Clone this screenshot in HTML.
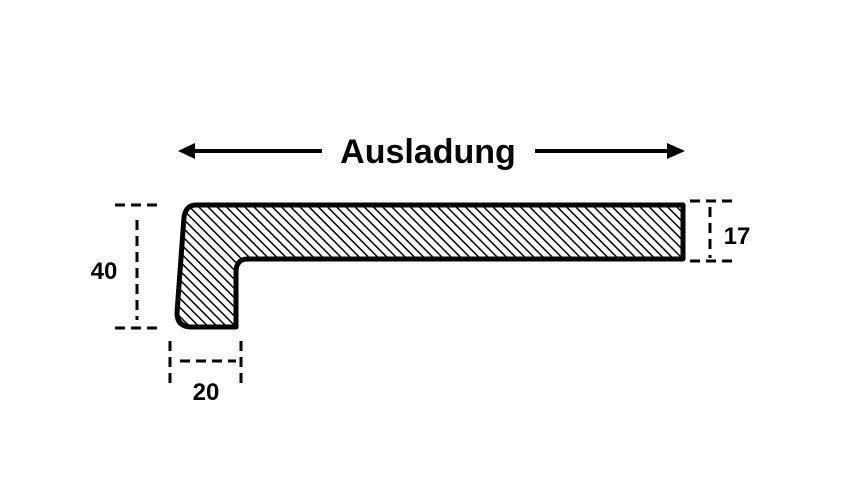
<!DOCTYPE html>
<html><head><style>body{margin:0;background:#fff}</style></head><body>
<svg width="859" height="497" viewBox="0 0 859 497" xmlns="http://www.w3.org/2000/svg">
<defs>
<pattern id="h" width="6.5" height="6.5" patternUnits="userSpaceOnUse" patternTransform="rotate(-45)">
<rect width="6.5" height="6.5" fill="#fff"/>
<line x1="0" y1="0" x2="0" y2="6.5" stroke="#000" stroke-width="3"/>
</pattern>
</defs>
<path d="M196,205 L683,205 L683,259 L248,259 Q236,259 236,272 L236,327 L190,327 Q177,326 177,313 L184,217 Q186,205 196,205 Z" fill="url(#h)" stroke="#000" stroke-width="5" stroke-linejoin="round"/>
<g stroke="#000" stroke-width="3" stroke-dasharray="10,6" fill="none">
<line x1="115" y1="205" x2="158" y2="205"/>
<line x1="115" y1="328" x2="158" y2="328"/>
<line x1="137" y1="220" x2="137" y2="320"/>
<line x1="170" y1="341" x2="170" y2="385"/>
<line x1="241" y1="341" x2="241" y2="385"/>
<line x1="180" y1="361" x2="236" y2="361"/>
<line x1="690" y1="201" x2="732" y2="201"/>
<line x1="690" y1="261" x2="732" y2="261"/>
<line x1="710" y1="207" x2="710" y2="258"/>
</g>
<line x1="192" y1="151" x2="322" y2="151" stroke="#000" stroke-width="4"/>
<polygon points="178,151 195,143 195,159" fill="#000"/>
<line x1="535" y1="151" x2="670" y2="151" stroke="#000" stroke-width="4"/>
<polygon points="685,151 667,143 667,159" fill="#000"/>
<g font-family="Liberation Sans, sans-serif" font-weight="bold" fill="#000">
<text x="428" y="163" font-size="34" text-anchor="middle">Ausladung</text>
<text x="104" y="279" font-size="24" text-anchor="middle">40</text>
<text x="206" y="400" font-size="24" text-anchor="middle">20</text>
<text x="737" y="244" font-size="24" text-anchor="middle">17</text>
</g>
</svg>
</body></html>
